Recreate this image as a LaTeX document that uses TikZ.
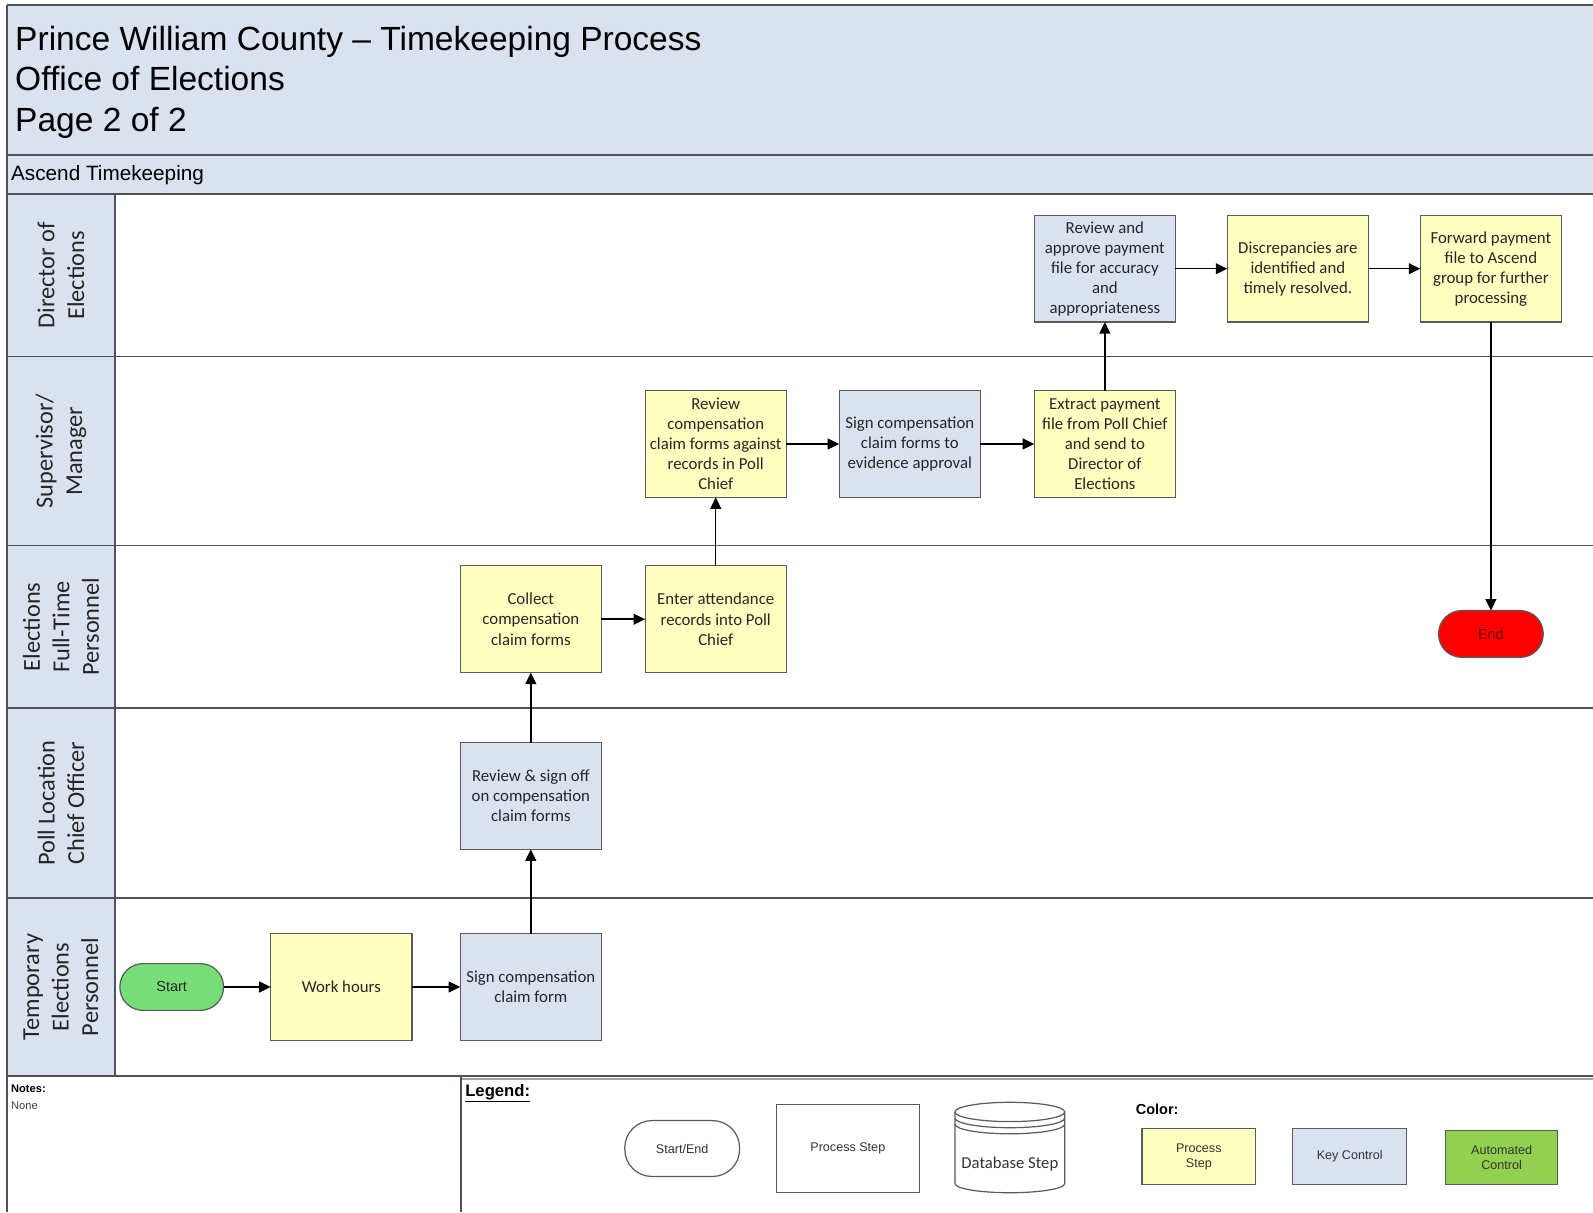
\documentclass[tikz,border=0pt]{standalone}
\usepackage{fontspec}
\setmainfont{Liberation Sans}
\newfontfamily\calib{Carlito}
\usetikzlibrary{arrows.meta}
\definecolor{hdrblue}{RGB}{218,226,240}
\definecolor{keyblue}{RGB}{218,226,240}
\definecolor{procyellow}{RGB}{255,255,192}
\definecolor{startgreen}{RGB}{119,221,119}
\definecolor{autogreen}{RGB}{146,208,80}
\definecolor{frameline}{RGB}{78,82,90}
\definecolor{boxgray}{RGB}{90,90,90}
\definecolor{endtext}{RGB}{110,0,0}
\begin{document}
\begin{tikzpicture}[x=0.75pt,y=-0.75pt,
  every node/.style={inner sep=0pt, outer sep=0pt},
  boxtxt/.style={font=\calib\fontsize{12.4}{14.8}\selectfont, align=center, text=black!85},
  stepbox/.style={boxtxt, draw=boxgray, line width=0.9pt, minimum width=104.25pt, minimum height=78.75pt},
  yel/.style={stepbox, fill=procyellow},
  blu/.style={stepbox, fill=keyblue},
  flow/.style={-{Triangle[length=8.5pt,width=8pt]}, line width=1.1pt, black},
  lanetxt/.style={rotate=90, font=\calib\fontsize{18}{21.8}\selectfont, align=center, text=black!85},
  term/.style={draw=boxgray, line width=0.9pt, rounded corners=17pt, minimum width=76.5pt, minimum height=34.5pt, font=\fontsize{10.7}{13}\selectfont},
  frame/.style={draw=frameline, line width=1.5pt},
  legtxt/.style={font=\fontsize{9.3}{11.2}\selectfont, align=center, text=black!80},
  legbox/.style={legtxt, draw=boxgray, line width=0.9pt, minimum width=84pt, minimum height=41.25pt},
  titletxt/.style={anchor=base west, font=\fontsize{24.75}{30}\selectfont}
]
\useasboundingbox (0,0) rectangle (1568,1193);
% backgrounds
\fill[hdrblue] (7,5) rectangle (1568,191);
\fill[hdrblue] (7,191) rectangle (113,1059);
% frame lines
\draw[frame] (7,5) -- (1568,5);
\draw[frame] (7,153) -- (1568,153);
\draw[frame] (7,191) -- (1568,191);
\foreach \yy in {351,537,697,884} { \draw[frame, line width=1.2pt] (7,\yy) -- (1568,\yy); }
\draw[frame, line width=2pt] (7,1059) -- (1568,1059);
\draw[draw=gray!70, line width=1.2pt] (454,1062) -- (1568,1062);
\draw[frame] (7,5) -- (7,1193);
\draw[frame, line width=1.2pt] (113,191) -- (113,1059);
\draw[frame, line width=1.1pt] (454,1059) -- (454,1193);

% header
\node[titletxt] (t1) at (15,49.5) {Prince William County – Timekeeping Process};
\node[titletxt] (t2) at (15,89.5) {Office of Elections};
\node[titletxt] (t3) at (15,129.5) {Page 2 of 2};
\node[anchor=west, font=\fontsize{15.3}{18}\selectfont] (asc) at (11,172) {Ascend Timekeeping};

% lane labels
\node[lanetxt] (l1) at (60,271) {Director of\\Elections};
\node[lanetxt] (l2) at (60,444) {Supervisor/\\Manager};
\node[lanetxt] (l3) at (60,617) {Elections\\Full-Time\\Personnel};
\node[lanetxt] (l4) at (60,790.5) {Poll Location\\Chief Officer};
\node[lanetxt] (l5) at (60,971.5) {Temporary\\Elections\\Personnel};

% process nodes
\node[blu] (rap) at (1087.5,264.5) {Review and\\approve payment\\file for accuracy\\and\\appropriateness};
\node[yel] (disc) at (1277.5,264.5) {Discrepancies are\\identified and\\timely resolved.};
\node[yel] (fwd) at (1467.5,264.5) {Forward payment\\file to Ascend\\group for further\\processing};
\node[yel] (rcomp) at (704.5,437) {Review\\compensation\\claim forms against\\records in Poll\\Chief};
\node[blu] (signc) at (895.5,437) {Sign compensation\\claim forms to\\evidence approval};
\node[yel] (extr) at (1087.5,437) {Extract payment\\file from Poll Chief\\and send to\\Director of\\Elections};
\node[yel] (coll) at (522.5,609.5) {Collect\\compensation\\claim forms};
\node[yel] (enter) at (704.5,609.5) {Enter attendance\\records into Poll\\Chief};
\node[term, fill=red, text=endtext, minimum width=77.25pt] (endn) at (1467.5,624) {End};
\node[blu] (rsign) at (522.5,783.5) {Review \& sign off\\on compensation\\claim forms};
\node[term, fill=startgreen, text=black!85] (start) at (169,971.5) {Start};
\node[yel] (work) at (336,971.5) {Work hours};
\node[blu] (signf) at (522.5,971.5) {Sign compensation\\claim form};

% connectors
\draw[flow] (start) -- (work);
\draw[flow] (work) -- (signf);
\draw[flow] (signf) -- (rsign);
\draw[flow] (rsign) -- (coll);
\draw[flow] (coll) -- (enter);
\draw[flow] (enter) -- (rcomp);
\draw[flow] (rcomp) -- (signc);
\draw[flow] (signc) -- (extr);
\draw[flow] (extr) -- (rap);
\draw[flow] (rap) -- (disc);
\draw[flow] (disc) -- (fwd);
\draw[flow] (fwd) -- (endn);

% notes
\node[anchor=west, font=\bfseries\fontsize{8.2}{10}\selectfont] (notes) at (11,1072) {Notes:};
\node[anchor=west, font=\fontsize{8.2}{10}\selectfont, text=black!75] (none) at (11,1088) {None};

% legend
\node[anchor=west, font=\bfseries\fontsize{12.3}{14}\selectfont] (leg) at (458,1076) {\underline{Legend:}};
\node[legtxt, draw=boxgray, line width=0.9pt, rounded corners=20pt, fill=white, minimum width=84.75pt, minimum height=41.25pt] (lse) at (671.5,1130.5) {Start/End};
\node[legtxt, draw=boxgray, line width=0.9pt, fill=white, minimum width=105.75pt, minimum height=65.25pt] (lps) at (834.5,1130.5) {Process Step};
% database cylinder
\draw[boxgray, line width=0.9pt, fill=white] (940,1094.5) -- (940,1165) arc[start angle=180, end angle=0, x radius=54, y radius=9] -- (1048,1094.5);
\draw[boxgray, line width=0.9pt, fill=white] (994,1094.5) ellipse[x radius=54, y radius=9.5];
\draw[boxgray, line width=0.9pt] (940,1100.5) arc[start angle=180, end angle=0, x radius=54, y radius=9.5];
\draw[boxgray, line width=0.9pt] (940,1106.5) arc[start angle=180, end angle=0, x radius=54, y radius=9.5];
\node[font=\calib\fontsize{12.3}{14}\selectfont, text=black!80] (ldb) at (994,1146) {Database Step};
\node[anchor=west, font=\bfseries\fontsize{10.7}{13}\selectfont] (col) at (1118,1092) {Color:};
\node[legbox, fill=procyellow] (lcy) at (1180,1138.5) {Process\\Step};
\node[legbox, fill=keyblue] (lck) at (1328.5,1138.5) {Key Control};
\node[legbox, fill=autogreen, minimum width=82.5pt, minimum height=39.75pt] (lca) at (1478,1139.5) {Automated\\Control};
\end{tikzpicture}
\end{document}
